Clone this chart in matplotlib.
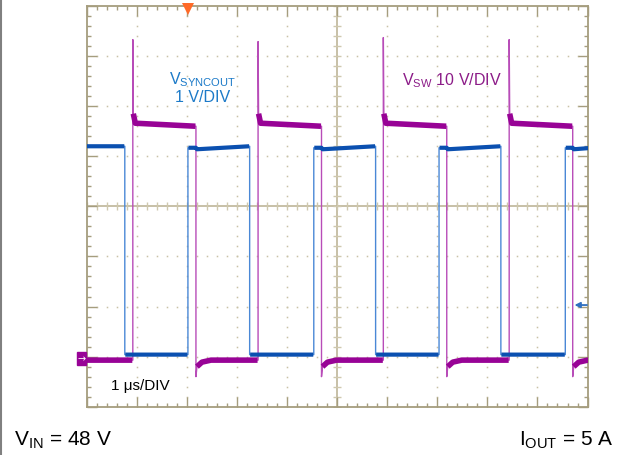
import matplotlib
matplotlib.use('Agg')
import matplotlib.pyplot as plt
import numpy as np
from matplotlib.lines import Line2D
from matplotlib.patches import Rectangle

plt.rcParams['font.family'] = ['Liberation Sans', 'DejaVu Sans']
plt.rcParams['mathtext.fontset'] = 'custom'
plt.rcParams['mathtext.rm'] = 'Liberation Sans'
plt.rcParams['mathtext.it'] = 'Liberation Sans:italic'
plt.rcParams['mathtext.bf'] = 'Liberation Sans:bold'

# Scope screen in divisions: 10 horizontal (1 us/div), 8 vertical
# V_SW (10 V/div) edges, in divisions
sw_rise = [0.924, 3.424, 5.924, 8.436]
sw_fall = [2.184, 4.690, 7.190, 9.704]
sw_peak = [7.33, 7.29, 7.37, 7.33]
sw_low = 0.93
sw_over = 5.85
sw_high_start = 5.66
sw_high_end = 5.60
sw_under = 0.60
sw_recover = [0.80, 0.89]

# V_SYNCOUT (1 V/div) edges, in divisions
sync_fall = [0.764, 3.256, 5.770, 8.270]
sync_rise = [2.024, 4.536, 7.036, 9.556]
sync_high_start = 5.17
sync_dip = 5.14
sync_high_end = 5.20
sync_low = 1.04

frame_col = '#A59D7E'
grid_col = '#C9C2A6'
mag_thick = '#980396'
mag_thin = '#B84CB8'
blue_thick = '#0B50B0'
blue_thin = '#4A88D6'

fig = plt.figure(figsize=(6.22, 4.56), dpi=100)
ax = fig.add_axes([0.1391, 0.1059, 0.8055, 0.8787])
ax.set_xlim(0, 10)
ax.set_ylim(0, 8)

# frame and ticks
for s in ax.spines.values():
    s.set_color(frame_col)
    s.set_linewidth(1.3)
ax.set_xticks(np.arange(0, 11, 1))
ax.set_yticks(np.arange(0, 9, 1))
ax.set_xticks(np.arange(0, 10.01, 0.2), minor=True)
ax.set_yticks(np.arange(0, 8.01, 0.2), minor=True)
ax.tick_params(which='major', direction='in', length=7.5, width=1.0, color=frame_col,
               top=True, right=True, labelbottom=False, labelleft=False)
ax.tick_params(which='minor', direction='in', length=3.0, width=1.0, color=frame_col,
               top=True, right=True)

# dotted graticule
minor_x = np.arange(0, 10.01, 0.2)
minor_y = np.arange(0, 8.01, 0.2)
for gx in [1, 2, 3, 4, 6, 7, 8, 9]:
    ax.plot(np.full_like(minor_y, gx), minor_y, ls='none', marker='s', ms=1.1,
            mew=0, color=grid_col, zorder=1)
for gy in [1, 2, 3, 5, 6, 7]:
    ax.plot(minor_x, np.full_like(minor_x, gy), ls='none', marker='s', ms=1.1,
            mew=0, color=grid_col, zorder=1)

# center crosshair with ticks
ax.axhline(4, color='#BDB598', lw=1.2, zorder=1)
ax.axvline(5, color='#BDB598', lw=1.2, zorder=1)
ax.plot(minor_x, np.full_like(minor_x, 4), ls='none', marker='|', ms=5.5, mew=1.0,
        color='#CFC8AE', zorder=1)
ax.plot(np.full_like(minor_y, 5), minor_y, ls='none', marker='_', ms=6, mew=1.0,
        color='#CFC8AE', zorder=1)

# V_SW trace
sx, sy = [0.0], [sw_low]
hx, hy = [0.0], [sw_low]
for i, (r, f, pk) in enumerate(zip(sw_rise, sw_fall, sw_peak)):
    sx += [r, r, r + 0.01, r + 0.05, f, f, f + 0.02, f + 0.12, f + 0.3]
    sy += [sw_low, pk, sw_over, sw_high_start, sw_high_end, sw_under,
           sw_recover[0], sw_recover[1], sw_low]
    hx += [r - 0.01, np.nan, r + 0.01, r + 0.05, f - 0.01, np.nan,
           f + 0.02, f + 0.12, f + 0.3]
    hy += [sw_low, np.nan, sw_over, sw_high_start, sw_high_end, np.nan,
           sw_recover[0], sw_recover[1], sw_low]
    nxt = sw_rise[i + 1] if i + 1 < len(sw_rise) else 10.5
    hx.append(nxt - 0.01)
    hy.append(sw_low)
ax.plot(sx, sy, color=mag_thin, lw=1.0, zorder=3)
ax.plot(hx, hy, color=mag_thick, lw=4.0, solid_capstyle='butt', zorder=3)

# V_SYNCOUT trace
bx, by = [0.0], [sync_high_end]
tx, ty = [0.0], [sync_high_end]
for i, (fl, rs) in enumerate(zip(sync_fall, sync_rise)):
    mf = sw_fall[i]
    nxt = sync_fall[i + 1] if i + 1 < len(sync_fall) else 10.5
    bx += [fl, fl, rs, rs, mf, mf + 0.02, nxt]
    by += [sync_high_end, sync_low, sync_low, sync_high_start, sync_high_start,
           sync_dip, sync_high_end]
    tx += [fl - 0.01, np.nan, fl + 0.01, rs - 0.01, np.nan, rs + 0.01, mf,
           mf + 0.02, nxt - 0.01]
    ty += [sync_high_end, np.nan, sync_low, sync_low, np.nan, sync_high_start,
           sync_high_start, sync_dip, sync_high_end]
ax.plot(bx, by, color=blue_thin, lw=1.0, zorder=4)
ax.plot(tx, ty, color=blue_thick, lw=3.0, solid_capstyle='butt', zorder=4)

# channel markers
ax.add_patch(Rectangle((-0.19, 0.84), 0.18, 0.26, color=mag_thick, clip_on=False, zorder=5))
ax.text(-0.1, 0.96, '\u2192', color='white', fontsize=7, ha='center', va='center',
        clip_on=False, zorder=6, family='DejaVu Sans')
ax.annotate('', xy=(9.74, 2.03), xytext=(9.99, 2.03),
            arrowprops=dict(arrowstyle='-|>', color='#2F6FC0', lw=1.3,
                            mutation_scale=8, shrinkA=0, shrinkB=0), zorder=6)
ax.plot([2.02], [7.94], marker='v', ms=8, color='#FF6A28', mew=0, clip_on=False, zorder=6)

# labels
ax.text(2.31, 6.55, r'V$_{\mathrm{SYNCOUT}}$', color='#1C7AC8', fontsize=11.5,
        ha='center', va='center')
ax.text(2.31, 6.19, '1 V/DIV', color='#1C7AC8', fontsize=11.5,
        ha='center', va='center')
ax.text(6.30, 6.52, r'V$_{\mathrm{SW}}$ 10 V/DIV', color='#8C1C88', fontsize=11.5,
        ha='left', va='center')
ax.text(0.49, 0.44, '1 \u03bcs/DIV', color='black', fontsize=11,
        ha='left', va='center')

fig.text(0.0225, 0.0219, r'V$_{\mathrm{IN}}$ = 48 V', fontsize=15, ha='left',
         va='baseline')
fig.text(0.9855, 0.0219, r'I$_{\mathrm{OUT}}$ = 5 A', fontsize=15, ha='right',
         va='baseline')

# left edge border of the page
fig.add_artist(Line2D([0.0015, 0.0015], [0, 1], transform=fig.transFigure,
                      color='#808080', lw=1.5))

fig.savefig('out.png', dpi=100)
